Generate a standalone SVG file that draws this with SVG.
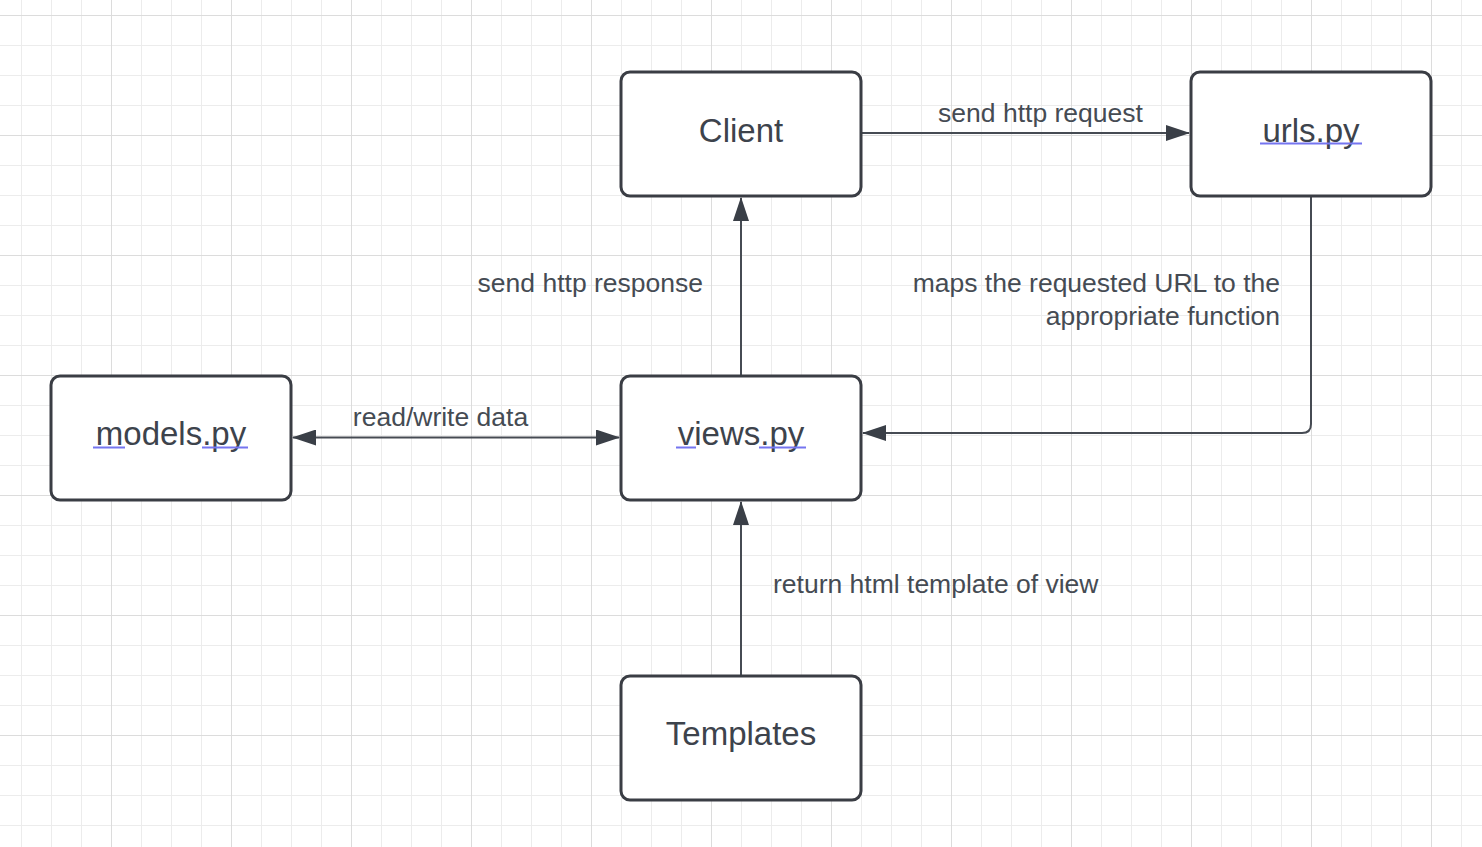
<svg xmlns="http://www.w3.org/2000/svg" width="1482" height="847" viewBox="0 0 1482 847">
  <defs>
    <pattern id="minor" x="21" y="15" width="30" height="30" patternUnits="userSpaceOnUse">
      <path d="M0.5 0V30M0 0.5H30" fill="none" stroke="#ececec" stroke-width="1"/>
    </pattern>
    <pattern id="major" x="111" y="15" width="120" height="120" patternUnits="userSpaceOnUse">
      <path d="M0.5 0V120M0 0.5H120" fill="none" stroke="#dcdcdc" stroke-width="1"/>
    </pattern>
    <marker id="arrow" viewBox="0 0 24 16" refX="23" refY="8" markerWidth="24" markerHeight="16" markerUnits="userSpaceOnUse" orient="auto-start-reverse">
      <path d="M0 0L24 8L0 16Z" fill="#3a3f47"/>
    </marker>
  </defs>
  <style>
    .box { fill: #ffffff; stroke: #3a3d44; stroke-width: 3; }
    .label { font-family: "Liberation Sans", Arial, sans-serif; font-size: 33px; fill: #3d434c; text-anchor: middle; }
    .edge { fill: none; stroke: #464b53; stroke-width: 2; }
    .elabel { font-family: "Liberation Sans", Arial, sans-serif; font-size: 26.5px; fill: #454b53; }
    .squiggle { stroke: #7575f0; stroke-width: 2; fill: none; }
  </style>
  <rect width="1482" height="847" fill="#ffffff"/>
  <rect width="1482" height="847" fill="url(#minor)"/>
  <rect width="1482" height="847" fill="url(#major)"/>

  <g id="connectors">
    <path class="edge" d="M861 133H1189" marker-end="url(#arrow)"/>
    <path class="edge" d="M741 376V198" marker-end="url(#arrow)"/>
    <path class="edge" d="M1311 196V424Q1311 433 1302 433H863" marker-end="url(#arrow)"/>
    <path class="edge" d="M293 437.5H619" marker-start="url(#arrow)" marker-end="url(#arrow)"/>
    <path class="edge" d="M741 676V502" marker-end="url(#arrow)"/>
    <text class="elabel" x="1040.5" y="122" text-anchor="middle">send http request</text>
    <text class="elabel" x="703" y="292" text-anchor="end">send http response</text>
    <text class="elabel" x="1280" y="292" text-anchor="end">maps the requested URL to the</text>
    <text class="elabel" x="1280" y="325" text-anchor="end">appropriate function</text>
    <text class="elabel" x="440.5" y="426" text-anchor="middle">read/write data</text>
    <text class="elabel" x="773" y="593">return html template of view</text>
  </g>

  <g id="client">
    <rect class="box" x="621" y="72" width="240" height="124" rx="9"/>
    <text class="label" x="741" y="141.5">Client</text>
  </g>
  <g id="urls">
    <rect class="box" x="1191" y="72" width="240" height="124" rx="9"/>
    <text class="label" x="1311" y="141.5">urls.py</text>
    <path class="squiggle" d="M1260 143.5H1362"/>
  </g>
  <g id="models">
    <rect class="box" x="51" y="376" width="240" height="124" rx="9"/>
    <text class="label" x="171" y="445">models.py</text>
    <path class="squiggle" d="M93 447.5H125M202 447.5H248"/>
  </g>
  <g id="views">
    <rect class="box" x="621" y="376" width="240" height="124" rx="9"/>
    <text class="label" x="741" y="445">views.py</text>
    <path class="squiggle" d="M676 447.5H696M759 447.5H806"/>
  </g>
  <g id="templates">
    <rect class="box" x="621" y="676" width="240" height="124" rx="9"/>
    <text class="label" x="741" y="745">Templates</text>
  </g>
</svg>
